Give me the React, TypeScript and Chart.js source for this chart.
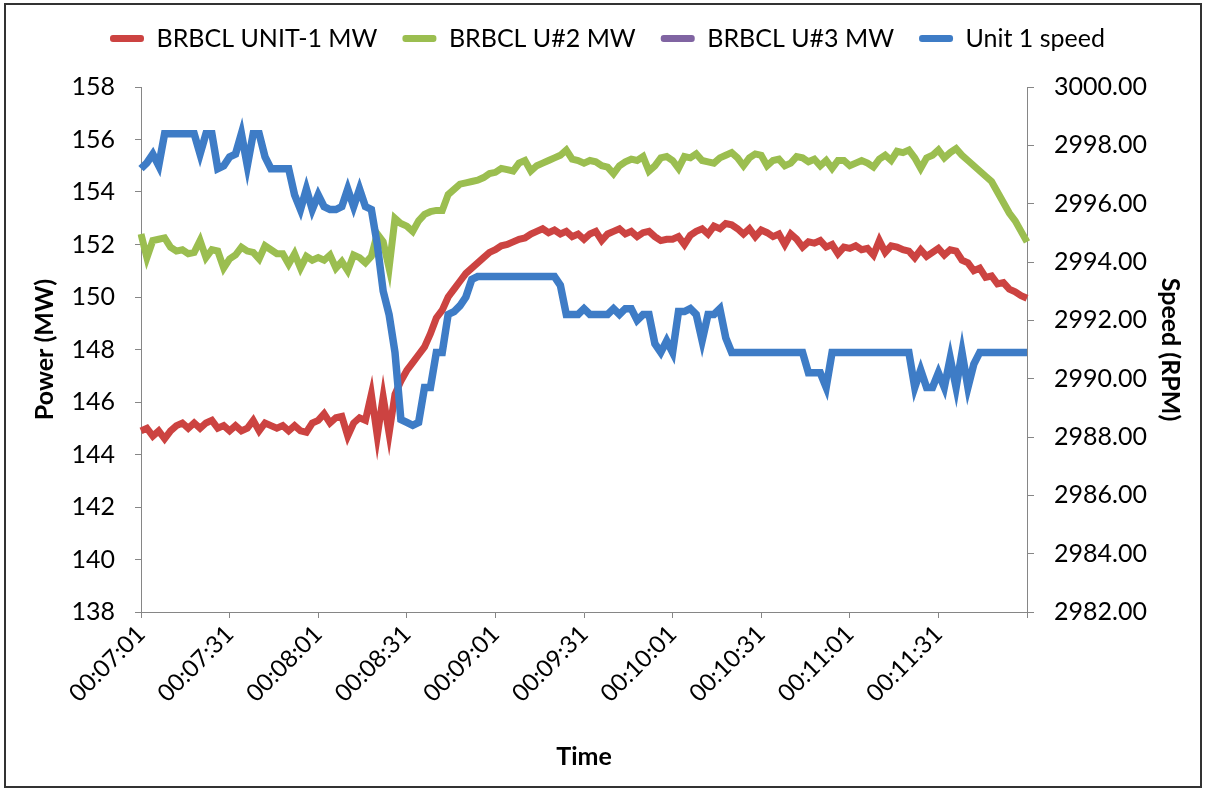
import React, { useEffect, useRef } from "react";
import { Chart, registerables } from "chart.js";

Chart.register(...registerables);

// ---- Data ----
const START_SECONDS = 7 * 60 + 1; // 00:07:01
const STEP_SECONDS = 2;
const TICK_EVERY = 15; // one tick every 30 s
const TICK_LABELS = [
  "00:07:01", "00:07:31", "00:08:01", "00:08:31", "00:09:01",
  "00:09:31", "00:10:01", "00:10:31", "00:11:01", "00:11:31",
];

const UNIT1_MW = [
  144.9, 145.0, 144.7, 144.9, 144.6, 144.9, 145.1, 145.2, 145.0, 145.2,
  145.0, 145.2, 145.3, 145.0, 145.1, 144.9, 145.1, 144.9, 145.0, 145.3,
  144.9, 145.2, 145.1, 145.0, 145.1, 144.9, 145.1, 144.9, 144.85, 145.2,
  145.3, 145.55, 145.2, 145.4, 145.45, 144.7, 145.2, 145.4, 145.3, 146.3,
  144.7, 146.2, 144.8, 146.3, 146.8, 147.2, 147.5, 147.8, 148.1, 148.6,
  149.2, 149.5, 150.0, 150.3, 150.6, 150.9, 151.1, 151.3, 151.5, 151.7,
  151.8, 151.95, 152.0, 152.1, 152.2, 152.25, 152.4, 152.5, 152.6, 152.45,
  152.55, 152.4, 152.5, 152.3, 152.4, 152.2, 152.4, 152.5, 152.15, 152.4,
  152.5, 152.6, 152.4, 152.5, 152.3, 152.45, 152.5, 152.3, 152.15, 152.2,
  152.2, 152.3, 152.0, 152.35, 152.5, 152.6, 152.4, 152.7, 152.6, 152.8,
  152.75, 152.6, 152.4, 152.6, 152.3, 152.55, 152.45, 152.3, 152.4, 152.0,
  152.4, 152.2, 151.9, 152.1, 152.05, 152.15, 151.9, 152.0, 151.65, 151.9,
  151.85, 151.95, 151.8, 151.85, 151.6, 152.15, 151.7, 151.95, 151.9, 151.8,
  151.75, 151.5, 151.8, 151.55, 151.7, 151.85, 151.6, 151.8, 151.75, 151.4,
  151.3, 151.0, 151.1, 150.75, 150.8, 150.5, 150.55, 150.3, 150.2, 150.05,
  149.95,
];

const U2_MW = [
  152.4, 151.5, 152.15, 152.2, 152.25, 151.9, 151.75, 151.8, 151.65, 151.7,
  152.15, 151.5, 151.8, 151.75, 151.1, 151.45, 151.6, 151.9, 151.75, 151.7,
  151.45, 151.95, 151.8, 151.65, 151.65, 151.25, 151.65, 151.1, 151.55, 151.4,
  151.5, 151.4, 151.6, 151.1, 151.35, 151.0, 151.6, 151.5, 151.3, 151.55,
  152.4, 152.1, 151.1, 153.0, 152.8, 152.7, 152.5, 152.9, 153.15, 153.25,
  153.3, 153.3, 153.9, 154.1, 154.3, 154.35, 154.4, 154.45, 154.55, 154.7,
  154.75, 154.9, 154.85, 154.8, 155.1, 155.2, 154.8, 155.0, 155.1, 155.2,
  155.3, 155.4, 155.6, 155.25, 155.2, 155.1, 155.2, 155.15, 155.0, 154.95,
  154.7, 155.0, 155.15, 155.25, 155.2, 155.35, 154.8, 155.0, 155.3, 155.35,
  155.2, 154.9, 155.35, 155.3, 155.45, 155.2, 155.15, 155.1, 155.3, 155.4,
  155.5, 155.3, 155.0, 155.3, 155.45, 155.4, 155.0, 155.2, 155.25, 155.0,
  155.1, 155.35, 155.3, 155.15, 155.25, 155.0, 155.2, 154.9, 155.2, 155.2,
  155.0, 155.1, 155.2, 155.1, 154.95, 155.25, 155.4, 155.2, 155.55, 155.5,
  155.6, 155.3, 154.9, 155.3, 155.4, 155.6, 155.3, 155.5, 155.65, 155.4,
  155.2, 155.0, 154.8, 154.6, 154.4, 154.0, 153.6, 153.2, 152.9, 152.5,
  152.1,
];

const U3_MW: (number | null)[] = [];

const UNIT1_SPEED = [
  2997.2, 2997.4, 2997.7, 2997.3, 2998.4, 2998.4, 2998.4, 2998.4, 2998.4, 2998.4,
  2997.7, 2998.4, 2998.4, 2997.2, 2997.3, 2997.6, 2997.7, 2998.4, 2997.3, 2998.4,
  2998.4, 2997.6, 2997.2, 2997.2, 2997.2, 2997.2, 2996.3, 2995.8, 2996.5, 2995.8,
  2996.3, 2995.9, 2995.8, 2995.8, 2995.9, 2996.5, 2995.9, 2996.5, 2995.9, 2995.8,
  2994.6, 2993.0, 2992.2, 2990.9, 2988.6, 2988.5, 2988.4, 2988.5, 2989.7, 2989.7,
  2990.9, 2990.9, 2992.2, 2992.3, 2992.5, 2992.8, 2993.4, 2993.5, 2993.5, 2993.5,
  2993.5, 2993.5, 2993.5, 2993.5, 2993.5, 2993.5, 2993.5, 2993.5, 2993.5, 2993.5,
  2993.5, 2993.2, 2992.2, 2992.2, 2992.2, 2992.4, 2992.2, 2992.2, 2992.2, 2992.2,
  2992.4, 2992.2, 2992.4, 2992.4, 2992.0, 2992.2, 2992.2, 2991.2, 2990.9, 2991.3,
  2990.9, 2992.3, 2992.3, 2992.4, 2992.2, 2991.3, 2992.2, 2992.2, 2992.4, 2991.4,
  2990.9, 2990.9, 2990.9, 2990.9, 2990.9, 2990.9, 2990.9, 2990.9, 2990.9, 2990.9,
  2990.9, 2990.9, 2990.9, 2990.2, 2990.2, 2990.2, 2989.7, 2990.9, 2990.9, 2990.9,
  2990.9, 2990.9, 2990.9, 2990.9, 2990.9, 2990.9, 2990.9, 2990.9, 2990.9, 2990.9,
  2990.9, 2989.7, 2990.3, 2989.7, 2989.7, 2990.2, 2989.7, 2990.7, 2989.7, 2990.9,
  2989.7, 2990.5, 2990.9, 2990.9, 2990.9, 2990.9, 2990.9, 2990.9, 2990.9, 2990.9,
  2990.9,
];

function fmtTime(sec: number): string {
  const h = Math.floor(sec / 3600);
  const m = Math.floor((sec % 3600) / 60);
  const s = sec % 60;
  const p = (n: number) => String(n).padStart(2, "0");
  return `${p(h)}:${p(m)}:${p(s)}`;
}

const CATEGORIES = UNIT1_MW.map((_, i) => fmtTime(START_SECONDS + i * STEP_SECONDS));

// ---- Styles ----
const RED = "#CC4341";
const GREEN = "#9BBE50";
const PURPLE = "#8064A2";
const BLUE = "#3E7CC6";
const AXIS = "#868686";
const FONT = "Lato";
const LEGEND_EXTRA = 26;

const legendSpacer = {
  id: "legendSpacer",
  beforeInit(chart: any) {
    const legend = chart.legend;
    if (!legend) return;
    const origFit = legend.fit;
    legend.fit = function () {
      origFit.call(this);
      this.height += LEGEND_EXTRA;
    };
  },
};

export default function App() {
  const ref = useRef<HTMLCanvasElement>(null);

  useEffect(() => {
    if (!ref.current) return;
    const chart = new Chart(ref.current, {
      type: "line",
      data: {
        labels: CATEGORIES,
        datasets: [
          {
            label: "BRBCL UNIT-1 MW",
            data: UNIT1_MW,
            borderColor: RED,
            backgroundColor: RED,
            borderWidth: 7,
            pointRadius: 0,
            yAxisID: "y",
            order: 1,
          },
          {
            label: "BRBCL U#2 MW",
            data: U2_MW,
            borderColor: GREEN,
            backgroundColor: GREEN,
            borderWidth: 7,
            pointRadius: 0,
            yAxisID: "y",
            order: 2,
          },
          {
            label: "BRBCL U#3 MW",
            data: U3_MW,
            borderColor: PURPLE,
            backgroundColor: PURPLE,
            borderWidth: 7,
            pointRadius: 0,
            yAxisID: "y",
            order: 3,
          },
          {
            label: "Unit 1 speed",
            data: UNIT1_SPEED,
            borderColor: BLUE,
            backgroundColor: BLUE,
            borderWidth: 7.5,
            pointRadius: 0,
            yAxisID: "y1",
            order: 0,
          },
        ],
      },
      options: {
        animation: false,
        responsive: false,
        devicePixelRatio: 1,
        layout: { padding: { left: 26, right: 17, top: 1, bottom: 15 } },
        font: { family: FONT },
        plugins: {
          tooltip: { enabled: false },
          legend: {
            position: "top",
            labels: {
              color: "#000",
              font: { family: FONT, size: 25 },
              boxWidth: 34,
              boxHeight: 7,
              padding: 25,
              useBorderRadius: true,
              borderRadius: 3,
              sort: (a: any, b: any) => a.datasetIndex - b.datasetIndex,
              generateLabels: (c: any) =>
                Chart.defaults.plugins.legend.labels
                  .generateLabels(c)
                  .map((l: any) => ({ ...l, lineWidth: 0, fillStyle: l.strokeStyle })),
            },
          },
        },
        scales: {
          x: {
            type: "category",
            offset: false,
            grid: {
              display: true,
              drawOnChartArea: false,
              drawTicks: true,
              tickLength: 6,
              color: (ctx: any) => (ctx.index % TICK_EVERY === 0 ? AXIS : "rgba(0,0,0,0)"),
            },
            border: { display: true, color: AXIS, width: 1 },
            ticks: {
              autoSkip: false,
              minRotation: 45,
              maxRotation: 45,
              padding: 2,
              color: "#000",
              font: { family: FONT, size: 24 },
              callback: (_v: any, i: number) =>
                i % TICK_EVERY === 0 ? TICK_LABELS[i / TICK_EVERY] ?? "" : "",
            },
            title: {
              display: true,
              text: "Time",
              color: "#000",
              font: { family: FONT, size: 25, weight: "bold" },
            },
            afterFit: (s: any) => {
              s.height = 164;
            },
          },
          y: {
            type: "linear",
            position: "left",
            min: 138,
            max: 158,
            grid: { display: true, drawOnChartArea: false, drawTicks: true, tickLength: 6, color: AXIS },
            border: { display: true, color: AXIS, width: 1 },
            ticks: {
              stepSize: 2,
              padding: 20,
              color: "#000",
              font: { family: FONT, size: 25 },
            },
            title: {
              display: true,
              text: "Power (MW)",
              color: "#000",
              font: { family: FONT, size: 25, weight: "bold" },
            },
            afterFit: (s: any) => {
              s.width = 115;
            },
          },
          y1: {
            type: "linear",
            position: "right",
            min: 2982,
            max: 3000,
            grid: { display: true, drawOnChartArea: false, drawTicks: true, tickLength: 7, color: AXIS },
            border: { display: true, color: AXIS, width: 1 },
            ticks: {
              stepSize: 2,
              padding: 20,
              color: "#000",
              font: { family: FONT, size: 25 },
              callback: (v: any) => Number(v).toFixed(2),
            },
            title: {
              display: true,
              text: "Speed (RPM)",
              color: "#000",
              font: { family: FONT, size: 25, weight: "bold" },
            },
            afterFit: (s: any) => {
              s.width = 162;
            },
          },
        },
      },
      plugins: [legendSpacer],
    } as any);
    return () => chart.destroy();
  }, []);

  return (
    <div
      style={{
        position: "fixed",
        left: 0,
        top: 0,
        width: 1206,
        height: 791,
        background: "#fff",
      }}
    >
      <canvas ref={ref} width={1206} height={791} style={{ display: "block", width: 1206, height: 791 }} />
      <div
        style={{
          position: "absolute",
          left: 4,
          top: 3,
          width: 1198,
          height: 785,
          border: "2px solid #333",
          boxSizing: "border-box",
          pointerEvents: "none",
        }}
      />
    </div>
  );
}
